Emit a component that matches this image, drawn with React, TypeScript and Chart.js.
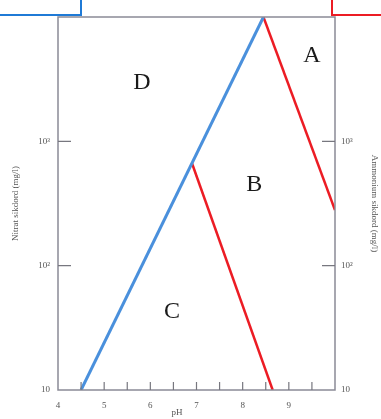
import React, { useEffect, useRef } from "react";
import { Chart, registerables } from "chart.js";

Chart.register(...registerables);

// pH values (x) and concentrations (mg/l, y, log scale)
const nitrateLineX = [4.5, 8.45];
const nitrateLineY = [10, 10000];
const ammoniumUpperX = [8.45, 10];
const ammoniumUpperY = [10000, 280];
const ammoniumLowerX = [6.9, 8.65];
const ammoniumLowerY = [670, 10];

const regionLabels = ["A", "B", "C", "D"];
const regionX = [9.5, 8.25, 6.47, 5.82];
const regionY = [4900, 445, 43, 2950];

const xTickLabels = ["4", "5", "6", "7", "8", "9"];
const yTickValues = [10, 100, 1000];
const yTickLabels = ["10", "10²", "10³"];
const xMinorTicks = [4.5, 5, 5.5, 6, 6.5, 7, 7.5, 8, 8.5, 9, 9.5];

const leftTitle = "Nitrat sikdord (mg/l)";
const rightTitle = "Ammonium sikdord (mg/l)";
const xTitle = "pH";
const xTitleAt = 6.58;

const SERIF = "'Liberation Serif', 'DejaVu Serif', serif";

const pts = (xs: number[], ys: number[]) => xs.map((x, i) => ({ x, y: ys[i] }));

const decorPlugin = {
  id: "decor",
  afterDraw(chart: any) {
    const { ctx, chartArea } = chart;
    const xs = chart.scales.x;
    const ys = chart.scales.y;
    const ys2 = chart.scales.y2;
    ctx.save();
    ctx.strokeStyle = "#8a8a96";
    ctx.lineWidth = 1.5;
    ctx.strokeRect(chartArea.left, chartArea.top, chartArea.right - chartArea.left, chartArea.bottom - chartArea.top);
    ctx.lineWidth = 1.2;
    ctx.strokeStyle = "#77777f";
    ctx.beginPath();
    xMinorTicks.forEach((v) => {
      const px = xs.getPixelForValue(v);
      ctx.moveTo(px, chartArea.bottom);
      ctx.lineTo(px, chartArea.bottom - 8);
    });
    [100, 1000].forEach((v) => {
      const py = ys.getPixelForValue(v);
      ctx.moveTo(chartArea.left, py);
      ctx.lineTo(chartArea.left + 13, py);
      const py2 = ys2.getPixelForValue(v);
      ctx.moveTo(chartArea.right, py2);
      ctx.lineTo(chartArea.right - 13, py2);
    });
    ctx.stroke();
    ctx.fillStyle = "#1a1a1a";
    ctx.font = `24px ${SERIF}`;
    ctx.textAlign = "center";
    ctx.textBaseline = "middle";
    regionLabels.forEach((t, i) => {
      ctx.fillText(t, xs.getPixelForValue(regionX[i]), ys.getPixelForValue(regionY[i]));
    });
    ctx.fillStyle = "#555";
    ctx.font = `9px ${SERIF}`;
    ctx.fillText(xTitle, xs.getPixelForValue(xTitleAt), chartArea.bottom + 23);
    ctx.restore();
  },
};

export default function App() {
  const ref = useRef<HTMLCanvasElement>(null);
  useEffect(() => {
    document.body.style.margin = "0";
    const chart = new Chart(ref.current!, {
      type: "line",
      data: {
        datasets: [
          {
            label: "Nitrat",
            data: pts(nitrateLineX, nitrateLineY),
            borderColor: "#4a90dc",
            borderWidth: 3,
            pointRadius: 0,
            yAxisID: "y",
          },
          {
            label: "Ammonium A",
            data: pts(ammoniumUpperX, ammoniumUpperY),
            borderColor: "#ec1c24",
            borderWidth: 2.5,
            pointRadius: 0,
            yAxisID: "y2",
          },
          {
            label: "Ammonium B",
            data: pts(ammoniumLowerX, ammoniumLowerY),
            borderColor: "#ec1c24",
            borderWidth: 2.5,
            pointRadius: 0,
            yAxisID: "y2",
          },
        ],
      },
      options: {
        animation: false,
        responsive: false,
        layout: { padding: { top: 17, left: 0, right: 0, bottom: 0 } },
        plugins: { legend: { display: false }, tooltip: { enabled: false } },
        scales: {
          x: {
            type: "linear",
            min: 4,
            max: 10,
            afterBuildTicks: (s: any) => {
              s.ticks = xTickLabels.map((l) => ({ value: Number(l) }));
            },
            ticks: {
              padding: 10,
              color: "#555",
              font: { family: SERIF, size: 9 },
              callback: (v: any) => String(v),
              maxRotation: 0,
              autoSkip: false,
            },
            grid: { display: false, drawTicks: false },
            border: { display: false },
            title: { display: false, text: xTitle },
            afterFit: (s: any) => {
              s.height = 29;
            },
          },
          y: {
            type: "logarithmic",
            position: "left",
            min: 10,
            max: 10000,
            afterBuildTicks: (s: any) => {
              s.ticks = yTickValues.map((v) => ({ value: v }));
            },
            ticks: {
              padding: 8,
              color: "#555",
              font: { family: SERIF, size: 9 },
              callback: (v: any) => yTickLabels[yTickValues.indexOf(Number(v))] ?? "",
              autoSkip: false,
            },
            grid: { display: false, drawTicks: false },
            border: { display: false },
            title: {
              display: true,
              text: leftTitle,
              color: "#555",
              font: { family: SERIF, size: 9 },
              padding: { top: 10, bottom: 0 },
            },
            afterFit: (s: any) => {
              s.width = 58;
            },
          },
          y2: {
            type: "logarithmic",
            position: "right",
            min: 10,
            max: 10000,
            afterBuildTicks: (s: any) => {
              s.ticks = yTickValues.map((v) => ({ value: v }));
            },
            ticks: {
              padding: 6,
              color: "#555",
              font: { family: SERIF, size: 9 },
              callback: (v: any) => yTickLabels[yTickValues.indexOf(Number(v))] ?? "",
              autoSkip: false,
            },
            grid: { display: false, drawTicks: false },
            border: { display: false },
            title: {
              display: true,
              text: rightTitle,
              color: "#555",
              font: { family: SERIF, size: 9 },
              padding: { top: 1, bottom: 0 },
            },
            afterFit: (s: any) => {
              s.width = 46;
            },
          },
        },
      },
      plugins: [decorPlugin],
    });
    return () => chart.destroy();
  }, []);

  return (
    <div style={{ position: "fixed", left: 0, top: 0, width: 381, height: 419, overflow: "hidden", background: "#fff" }}>
      <canvas ref={ref} width={381} height={419} style={{ position: "absolute", left: 0, top: 0 }} />
      <div style={{ position: "absolute", left: -10, top: -20, width: 88, height: 32, border: "2px solid #1f7ad6", background: "#fff" }} />
      <div style={{ position: "absolute", left: 331, top: -20, width: 70, height: 32, border: "2px solid #ec1c24", background: "#fff" }} />
    </div>
  );
}
